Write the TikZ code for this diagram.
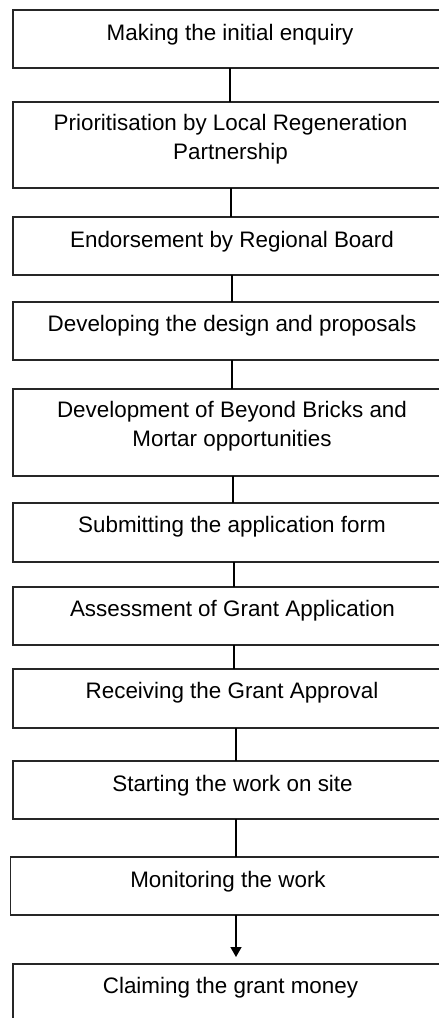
\documentclass[tikz,border=0pt]{standalone}
\usepackage{fontspec}
\setmainfont{Liberation Sans}
\usetikzlibrary{arrows.meta}
\begin{document}
\begin{tikzpicture}[x=1pt,y=-1pt,
  stagebox/.style={draw=black!85,line width=1.4pt,outer sep=0pt,inner sep=0pt},
  stagetext/.style={font=\fontsize{22.4}{29}\selectfont,align=center,inner sep=0pt,anchor=base},
  link/.style={draw=black,line width=1.4pt},
  flow/.style={link,-{Triangle[width=11pt,length=10pt]},shorten >=7pt}]
\useasboundingbox (0,0) rectangle (439,1018);
\clip (0,0) rectangle (439,1018);
% boxes: centre x, top, bottom, left edge (right edges run off the page)
\newcommand\stage[5]{%
  \node[stagebox,minimum width={2*(#2-#5)},minimum height={#4-#3}]
    (#1) at (#2,{(#3+#4)/2}) {};}
\stage{b1}{230}{10}{68}{13}
\stage{b2}{231}{102}{188}{13}
\stage{b3}{232}{217}{275}{13}
\stage{b4}{232}{302}{360}{13}
\stage{b5}{233}{389}{476}{13}
\stage{b6}{234}{503}{562}{13}
\stage{b7}{234}{587}{645}{13}
\stage{b8}{236}{669}{728}{13}
\stage{b9}{236}{761}{819}{13}
\stage{b10}{236}{857}{915}{10.7}
\stage{b11}{236}{964}{1040}{13}
% labels (base anchor sits on the last line)
\node[stagetext] (t1) at (230,40) {Making the initial enquiry};
\node[stagetext] (t2) at (230.5,159) {Prioritisation by Local Regeneration\\Partnership};
\node[stagetext] (t3) at (232,247) {Endorsement by Regional Board};
\node[stagetext] (t4) at (232,331) {Developing the design and proposals};
\node[stagetext] (t5) at (232,446) {Development of Beyond Bricks and\\Mortar opportunities};
\node[stagetext] (t6) at (232,532) {Submitting the application form};
\node[stagetext] (t7) at (232.5,616) {Assessment of Grant Application};
\node[stagetext] (t8) at (232,698) {Receiving the Grant Approval};
\node[stagetext] (t9) at (232.5,791) {Starting the work on site};
\node[stagetext] (t10) at (228,887) {Monitoring the work};
\node[stagetext] (t11) at (230.5,993) {Claiming the grant money};
% connectors
\foreach \a/\b in {b1/b2,b2/b3,b3/b4,b4/b5,b5/b6,b6/b7,b7/b8,b8/b9,b9/b10}
  \draw[link] (\a.south) -- (\a.south |- \b.north);
\draw[flow] (b10.south) -- (b10.south |- b11.north);
\end{tikzpicture}
\end{document}
